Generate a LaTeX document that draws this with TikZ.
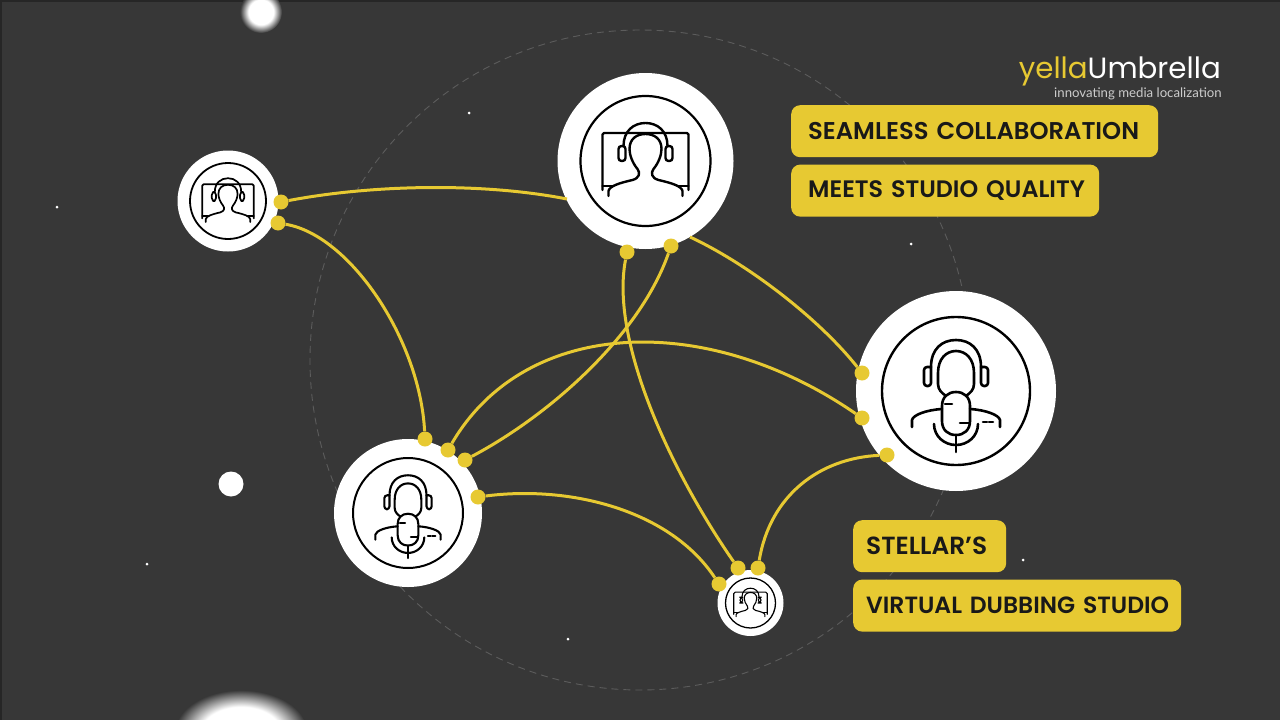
\documentclass[tikz,border=0pt]{standalone}
\usepackage{fontspec}
\setmainfont{Poppins}
\newfontfamily\capfont[UprightFont=* SemiBold]{Poppins}
\newfontfamily\tagfont{Lato}
\usepackage{tikz}
\usetikzlibrary{positioning}
\definecolor{bgcol}{HTML}{373737}
\definecolor{gold}{HTML}{E7C932}
\definecolor{ringcol}{HTML}{5C5C5C}
\pgfdeclareradialshading{glow}{\pgfpoint{0bp}{0bp}}{color(0bp)=(white); color(15bp)=(white); color(25bp)=(bgcol); color(50bp)=(bgcol)}
\tikzset{
  viewer/.pic={
    \draw[rounded corners=1.5] (-43,29) -- (-43,-28) -- (43,-28) -- (43,29);
    \draw (-43,25) -- (-33,25);
    \draw (43,25) -- (33,25);
    \draw[fill=white] (-37,35) -- (-37,30) .. controls (-36,25) and (-26,22) .. (-13,19)
      .. controls (-6,17) and (-5,12) .. (-8,8) .. controls (-13,2) and (-16,-6) .. (-16,-12)
      .. controls (-16,-22) and (-9,-27) .. (0,-27) .. controls (9,-27) and (16,-22) .. (16,-12)
      .. controls (16,-6) and (13,2) .. (8,8) .. controls (5,12) and (6,17) .. (13,19)
      .. controls (26,22) and (36,25) .. (37,30) -- (37,35);
    \draw (-22,-15) .. controls (-22,-30) and (-12,-38) .. (0,-38)
      .. controls (12,-38) and (22,-30) .. (22,-15);
    \draw[rounded corners=3,fill=white] (-20,-15) -- (-27,-15) -- (-27,0) -- (-20,0) -- cycle;
    \draw[rounded corners=3,fill=white] (20,-15) -- (27,-15) -- (27,0) -- (20,0) -- cycle;
  },
  talker/.pic={
    \draw (-44,36) -- (-44,29) .. controls (-43,24) and (-30,19) .. (-14,18);
    \draw (44,36) -- (44,29) .. controls (43,24) and (30,19) .. (14,18);
    \draw (27,31) -- (31,31) (33,31) -- (37,31);
    \draw (-18,-18) .. controls (-18,-32) and (-10,-40) .. (0,-40)
      .. controls (10,-40) and (18,-32) .. (18,-18) -- (18,-7)
      .. controls (18,-1) and (14,2) .. (10,5)
      (-18,-18) -- (-18,-7) .. controls (-18,-1) and (-14,2) .. (-10,5);
    \draw (-25,-24) .. controls (-25,-42) and (-14,-51) .. (0,-51)
      .. controls (14,-51) and (25,-42) .. (25,-24);
    \draw[rounded corners=3] (-25,-24) -- (-32,-24) -- (-32,-5) -- (-25,-5) -- (-25,-24);
    \draw[rounded corners=3] (25,-24) -- (32,-24) -- (32,-5) -- (25,-5) -- (25,-24);
    \draw (-14,15) .. controls (-14,6) and (-8,1) .. (0,1) .. controls (8,1) and (14,6) .. (14,15)
      -- (14,30) .. controls (14,39) and (8,44) .. (0,44) .. controls (-8,44) and (-14,39) .. (-14,30) -- cycle;
    \draw (-11,13) -- (-4,13) (4,32) -- (13,32);
    \draw (-22,33) .. controls (-22,45) and (-12,54) .. (0,54) .. controls (12,54) and (22,45) .. (22,33);
    \draw (0,44) -- (0,61);
  },
  disc/.style={circle,fill=white,inner sep=0pt},
  ring/.style={circle,draw=black,fill=white,inner sep=0pt},
  dot/.style={circle,fill=gold,inner sep=0pt,minimum size=15pt},
  star/.style={circle,fill=white,inner sep=0pt,minimum size=3pt},
  tagbox/.style={rectangle,rounded corners=9pt,fill=gold,text=black!90,font=\capfont\fontsize{#1}{#1}\selectfont,
    minimum height=52pt,align=left,anchor=north west},
  link/.style={draw=gold,line width=3pt},
  mark icon/.style={line width=#1,line join=round,line cap=round}
}
\begin{document}
\begin{tikzpicture}[x=1pt,y=-1pt]
  \fill[bgcol] (0,0) rectangle (1280,720);
  \useasboundingbox (0,0) rectangle (1280,720);
  \fill[black!85] (0,0) rectangle (2,720);
  \fill[black!85] (0,0) rectangle (1280,1.5);

  % backdrop
  \draw[ringcol,line width=0.9pt,dash pattern=on 7pt off 5pt] (640,360) circle (330);
  \node[star] (s1) at (57,207) {};
  \node[star] (s2) at (469,113) {};
  \node[star] (s3) at (911,244) {};
  \node[star] (s4) at (147,564) {};
  \node[star] (s5) at (568,639) {};
  \node[star] (s6) at (1023,560) {};
  \node[star,minimum size=25pt] (s7) at (231,484) {};
  \shade[shading=glow] (261,12) circle (21);
  \begin{scope}
    \clip (0,0) rectangle (1280,720);
    \shade[shading=glow] (241,732) ellipse (66 and 42);
  \end{scope}

  % the five people
  \node[disc,minimum size=176pt] (top) at (645.5,161) {};
  \node[disc,minimum size=200pt] (right) at (956,391) {};
  \node[disc,minimum size=101pt] (left) at (228,201) {};
  \node[disc,minimum size=148pt] (low) at (408,513) {};
  \node[disc,minimum size=66pt] (small) at (750.5,603) {};

  \node[ring,line width=2.2pt,minimum size=130pt] (topr) at (top) {};
  \node[ring,line width=2.4pt,minimum size=148pt] (rightr) at (right) {};
  \node[ring,line width=1.8pt,minimum size=76pt] (leftr) at (left) {};
  \node[ring,line width=2pt,minimum size=110pt] (lowr) at (low) {};
  \node[ring,line width=1.3pt,minimum size=50pt] (smallr) at (small) {};

  \pic[scale=1,mark icon=2.4pt] at (top) {viewer};
  \pic[scale=1,mark icon=2.6pt] at (right) {talker};
  \pic[scale=0.6,mark icon=1.7pt] at (left) {viewer};
  \pic[scale=0.74,mark icon=2.1pt] at (low) {talker};
  \pic[scale=0.39,mark icon=1.1pt] at (small) {viewer};

  % dots
  \node[dot] (a1) at (281,202) {};
  \node[dot] (a2) at (278,223) {};
  \node[dot] (b1) at (627,252) {};
  \node[dot] (b2) at (671,246) {};
  \node[dot] (c1) at (862,373) {};
  \node[dot] (c2) at (862,418) {};
  \node[dot] (c3) at (887,455) {};
  \node[dot] (d1) at (425,439) {};
  \node[dot] (d2) at (448,450) {};
  \node[dot] (d3) at (465,460) {};
  \node[dot] (d4) at (478,497) {};
  \node[dot] (e1) at (719,584) {};
  \node[dot] (e2) at (738,568) {};
  \node[dot] (e3) at (758,568) {};
  \coordinate (t1) at (567,199);
  \coordinate (t2) at (690,237);

  \path[link] (a1) .. controls (370,185) and (480,182) .. (t1);
  \path[link] (a2) .. controls (350,235) and (420,340) .. (d1);
  \path[link] (d2) .. controls (525,318) and (705,310) .. (c2);
  \path[link] (d3) .. controls (550,415) and (640,335) .. (b2);
  \path[link] (b1) .. controls (610,340) and (670,470) .. (e2);
  \path[link] (t2) .. controls (750,265) and (820,320) .. (c1);
  \path[link] (d4) .. controls (570,485) and (670,510) .. (e1);
  \path[link] (e3) .. controls (770,495) and (820,458) .. (c3);

  % captions
  \node[tagbox=24.25,inner xsep=17pt,text width=333pt] (tag1) at (791,105) {\mbox{SEAMLESS COLLABORATION}};
  \node[tagbox=23.8,inner xsep=17pt,text width=274pt,below=7pt of tag1.south west,anchor=north west] (tag2) {\mbox{MEETS STUDIO QUALITY}};
  \node[tagbox=24.8,inner xsep=13pt,text width=127pt] (tag3) at (853,520) {\mbox{STELLAR’S}};
  \node[tagbox=23.5,inner xsep=13pt,text width=302pt,below=7pt of tag3.south west,anchor=north west] (tag4) {\mbox{VIRTUAL DUBBING STUDIO}};

  % logo
  \node[anchor=base east,inner sep=0pt,font=\fontsize{29.3}{29.3}\selectfont,text=white] (logo) at (1221,78) {\textcolor{gold}{yella}Umbrella};
  \node[anchor=base east,inner sep=0pt,font=\tagfont\fontsize{13.2}{13.2}\selectfont,text=white!80!black] (strap) at (1222,97) {innovating media localization};
\end{tikzpicture}
\end{document}
